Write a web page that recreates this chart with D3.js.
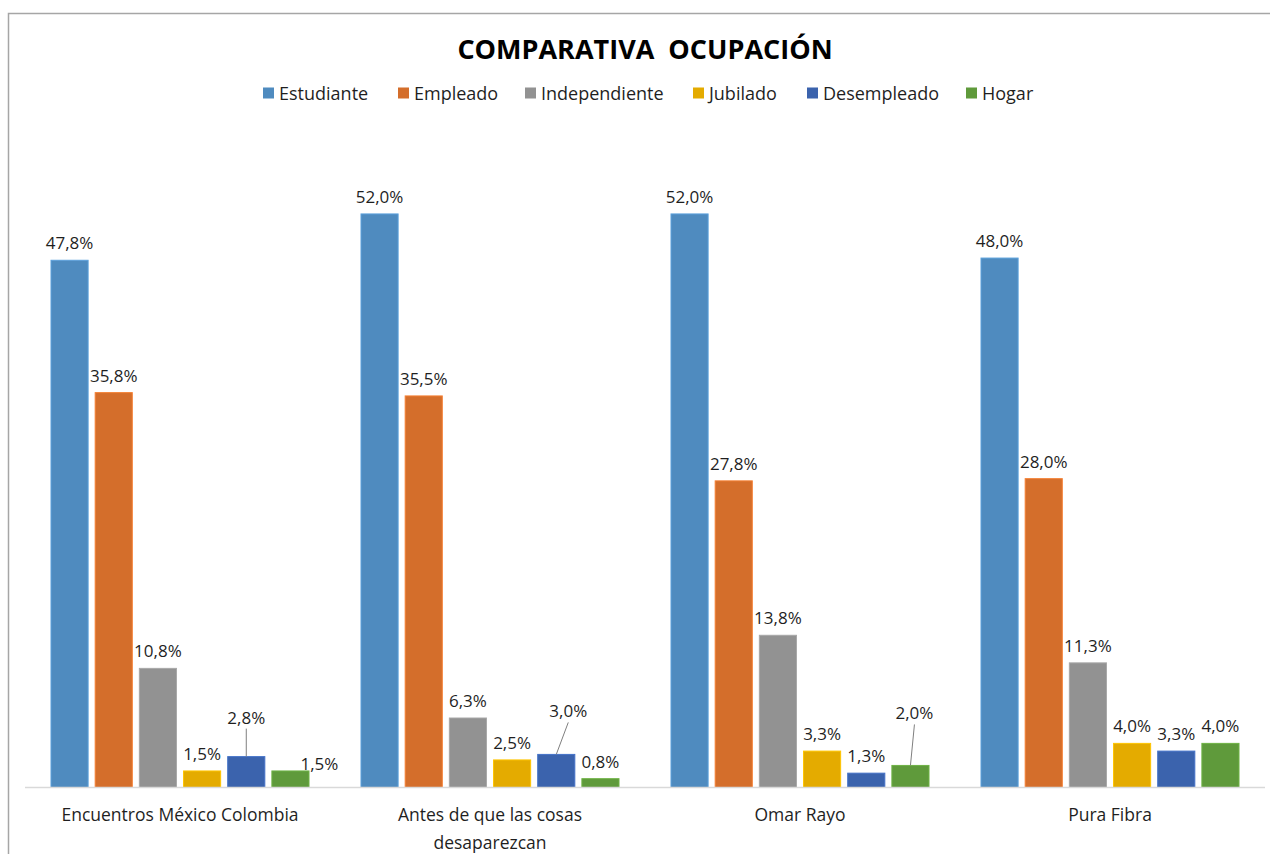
<!DOCTYPE html>
<html>
<head>
<meta charset="utf-8">
<script src="https://cdn.jsdelivr.net/npm/d3@7"></script>
<style>
    body { margin: 0; background: #fff; }
    svg text { font-family: "Open Sans", "Noto Sans", sans-serif; fill: #1f1f1f; }
</style>
</head>
<body>
<script>
var categories = ["Encuentros México Colombia", "Antes de que las cosas desaparezcan", "Omar Rayo", "Pura Fibra"];
var series = ["Estudiante", "Empleado", "Independiente", "Jubilado", "Desempleado", "Hogar"];
var estudiante = [47.8, 52.0, 52.0, 48.0];
var empleado = [35.8, 35.5, 27.8, 28.0];
var independiente = [10.8, 6.3, 13.8, 11.3];
var jubilado = [1.5, 2.5, 3.3, 4.0];
var desempleado = [2.8, 3.0, 1.3, 3.3];
var hogar = [1.5, 0.8, 2.0, 4.0];
var colors = ["#4f8bbf", "#d46e2b", "#929292", "#e4ab00", "#3b63ad", "#5f9a3b"];

(function () {
    var width = 1270,
        height = 854,
        plotLeft = 25,
        plotRight = 1265,
        baseline = 787.5;

    var values = [estudiante, empleado, independiente, jubilado, desempleado, hogar];

    // label nudges for the few labels Excel moved off their bars (series index, category index)
    var nudges = {
        "4-0": { dx: 0, dy: -22, leader: true },
        "5-0": { dx: 29, dy: 10, leader: false },
        "4-1": { dx: 12, dy: -26, leader: true },
        "5-2": { dx: 4, dy: -35, leader: true }
    };

    var svg = d3.select("body").append("svg")
        .attr("width", width)
        .attr("height", height);

    svg.append("rect")
        .attr("x", 8.5)
        .attr("y", 13.5)
        .attr("width", 1300)
        .attr("height", 900)
        .attr("fill", "none")
        .attr("stroke", "#a6a6a6")
        .attr("stroke-width", 1.5);

    svg.append("text")
        .attr("x", 645)
        .attr("y", 59)
        .attr("text-anchor", "middle")
        .attr("xml:space", "preserve")
        .style("font-size", "27px")
        .style("font-weight", "bold")
        .style("fill", "#000")
        .text("COMPARATIVA  OCUPACIÓN");

    // legend
    var legendX = [263, 398, 525, 693, 807, 966];
    var legend = svg.append("g");
    series.forEach(function (s, i) {
        legend.append("rect")
            .attr("x", legendX[i])
            .attr("y", 87.5)
            .attr("width", 11)
            .attr("height", 11)
            .attr("fill", colors[i]);
        legend.append("text")
            .attr("x", legendX[i] + 16)
            .attr("y", 99.5)
            .style("font-size", "18px")
            .text(s);
    });

    var x0 = d3.scaleBand()
        .domain(categories)
        .range([plotLeft, plotRight])
        .paddingInner(0)
        .paddingOuter(0);

    var x1 = d3.scaleBand()
        .domain(series)
        .range([26, x0.bandwidth() - 26])
        .paddingInner(0.16)
        .paddingOuter(0);

    var y = d3.scaleLinear()
        .domain([0, 60])
        .range([baseline, baseline - 60 * 11.03]);

    var groups = svg.selectAll(".group")
        .data(categories)
        .enter()
        .append("g")
        .attr("class", "group")
        .attr("transform", function (d) { return "translate(" + x0(d) + ",0)"; });

    groups.selectAll("rect")
        .data(function (d, ci) {
            return series.map(function (s, si) {
                return { cat: ci, ser: si, value: values[si][ci] };
            });
        })
        .enter()
        .append("rect")
        .attr("x", function (d) { return x1(series[d.ser]); })
        .attr("y", function (d) { return y(d.value); })
        .attr("width", x1.bandwidth())
        .attr("height", function (d) { return baseline - y(d.value); })
        .attr("fill", function (d) { return colors[d.ser]; })
        .attr("stroke", function (d) { return d3.color(colors[d.ser]).brighter(0.4); })
        .attr("stroke-width", 1);

    // data labels
    groups.each(function (c, ci) {
        var g = d3.select(this);
        series.forEach(function (s, si) {
            var v = values[si][ci];
            var cx = x1(s) + x1.bandwidth() / 2;
            var top = y(v);
            var n = nudges[si + "-" + ci] || { dx: 0, dy: 0, leader: false };
            var lx = cx + n.dx,
                ly = top - 11 + n.dy;
            if (n.leader) {
                g.append("line")
                    .attr("x1", lx)
                    .attr("y1", ly + 5)
                    .attr("x2", cx)
                    .attr("y2", top)
                    .attr("stroke", "#7f7f7f")
                    .attr("stroke-width", 1);
            }
            g.append("text")
                .attr("x", lx)
                .attr("y", ly)
                .attr("text-anchor", "middle")
                .style("font-size", "17px")
                .text(d3.format(".1f")(v).replace(".", ",") + "%");
        });
    });

    // axis line
    svg.append("line")
        .attr("x1", plotLeft)
        .attr("x2", plotRight)
        .attr("y1", baseline)
        .attr("y2", baseline)
        .attr("stroke", "#d9d9d9")
        .attr("stroke-width", 1.5);

    // category labels, wrapped like the original
    var catLines = {
        "Antes de que las cosas desaparezcan": ["Antes de que las cosas", "desaparezcan"]
    };
    categories.forEach(function (c) {
        var lines = catLines[c] || [c];
        var t = svg.append("text")
            .attr("x", x0(c) + x0.bandwidth() / 2)
            .attr("y", 821)
            .attr("text-anchor", "middle")
            .style("font-size", "17.5px");
        lines.forEach(function (l, i) {
            t.append("tspan")
                .attr("x", x0(c) + x0.bandwidth() / 2)
                .attr("dy", i === 0 ? 0 : 28)
                .text(l);
        });
    });
})();
</script>
</body>
</html>
